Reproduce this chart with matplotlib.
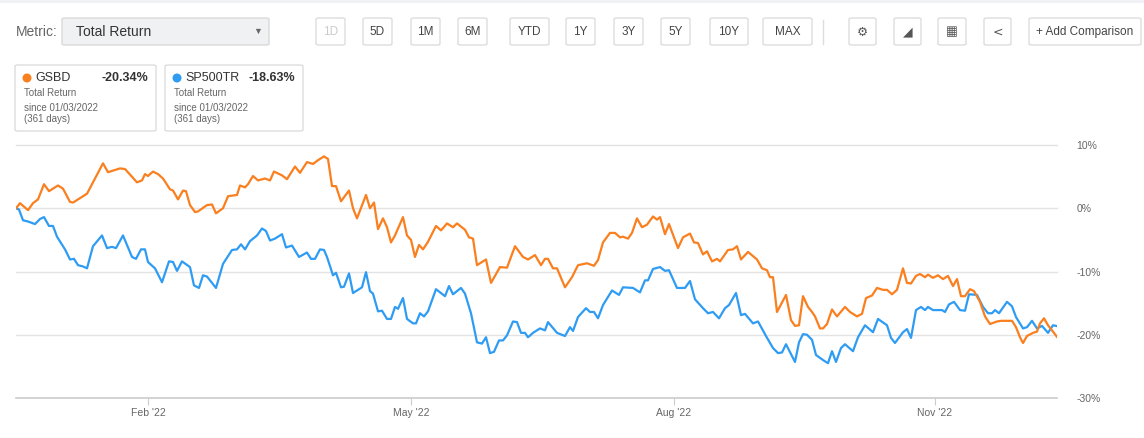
import numpy as np
import matplotlib
matplotlib.use("Agg")
import matplotlib.pyplot as plt
from matplotlib.patches import FancyBboxPatch, Ellipse

plt.rcParams["font.family"] = ["Liberation Sans", "DejaVu Sans"]

W, H = 1144, 438

# (chart position, total return %) ; position 0 = 01/03/2022, 1041 = end of range
gsbd = [(0, 0.0), (4, 0.8), (12, -0.3), (17, 0.8), (22, 1.4), (28, 3.8), (33, 2.7), (42, 3.6),
        (47, 3.1), (54, 1.0), (57, 0.9), (71, 2.3), (77, 4.1), (87, 7.1), (92, 5.7), (104, 6.3),
        (109, 6.2), (121, 4.1), (126, 4.4), (129, 5.4), (132, 5.1), (137, 5.8), (142, 5.4),
        (147, 4.7), (154, 3.0), (157, 2.8), (162, 1.4), (167, 2.8), (170, 2.7), (174, 0.5),
        (179, -0.6), (182, -0.5), (191, 0.5), (196, 0.6), (200, -0.8), (207, 0.0), (212, 1.9),
        (221, 2.1), (224, 3.6), (229, 3.3), (232, 3.8), (237, 5.1), (242, 4.4), (249, 4.7),
        (254, 4.4), (258, 5.8), (266, 5.2), (271, 4.6), (279, 6.6), (284, 5.6), (291, 7.3),
        (297, 7.0), (302, 7.6), (308, 8.2), (312, 7.8), (316, 3.5), (320, 3.5), (325, 1.1),
        (333, 2.8), (337, 0.0), (341, -1.6), (350, 2.1), (354, 0.0), (358, 0.9), (362, -3.3),
        (367, -1.6), (371, -3.0), (375, -5.4), (379, -4.3), (387, -1.4), (391, -4.3),
        (395, -5.0), (399, -7.7), (403, -5.8), (407, -6.5), (412, -5.3), (420, -2.8),
        (425, -3.5), (431, -2.4), (437, -3.0), (441, -2.4), (449, -3.4), (453, -4.6),
        (457, -4.8), (461, -9.0), (470, -8.1), (475, -11.8), (484, -9.3), (491, -9.4),
        (499, -6.0), (507, -7.7), (512, -8.1), (519, -7.4), (525, -9.0), (529, -8.0),
        (532, -8.0), (537, -9.5), (541, -9.5), (549, -12.5), (556, -10.9), (562, -9.0),
        (571, -8.7), (578, -9.1), (582, -8.2), (587, -5.4), (594, -3.9), (599, -3.9),
        (604, -4.6), (607, -4.5), (612, -4.8), (616, -3.9), (621, -1.6), (626, -3.0),
        (631, -2.6), (637, -1.3), (641, -1.8), (644, -1.4), (649, -4.1), (653, -2.5),
        (662, -6.3), (667, -4.6), (674, -4.0), (678, -5.4), (682, -5.5), (687, -7.3),
        (691, -6.8), (696, -8.4), (701, -8.0), (704, -8.4), (712, -6.6), (717, -6.5),
        (721, -6.0), (725, -8.1), (732, -6.9), (741, -8.1), (746, -9.5), (751, -9.8),
        (754, -10.9), (757, -10.9), (761, -16.4), (770, -13.7), (775, -17.7), (779, -18.6),
        (783, -18.5), (787, -13.9), (792, -15.6), (796, -16.4), (799, -17.1), (804, -19.0),
        (807, -19.0), (811, -18.3), (816, -16.0), (821, -17.1), (829, -15.6), (834, -16.4),
        (841, -17.1), (846, -16.7), (850, -14.2), (856, -13.8), (861, -12.6), (867, -12.9),
        (871, -12.9), (876, -13.6), (881, -12.9), (887, -9.5), (891, -11.8), (895, -11.9),
        (900, -10.7), (904, -10.4), (909, -10.9), (912, -10.5), (917, -11.0), (922, -10.6),
        (927, -11.2), (932, -10.7), (937, -12.3), (941, -11.2), (945, -13.9), (949, -13.9),
        (954, -12.8), (958, -13.1), (964, -14.8), (969, -17.1), (974, -18.3), (981, -17.9),
        (985, -17.8), (996, -17.8), (1000, -18.8), (1004, -20.4), (1007, -21.3), (1011, -20.2),
        (1017, -19.7), (1021, -19.5), (1024, -18.2), (1028, -17.4), (1032, -18.5),
        (1036, -19.3), (1041, -20.34)]

sp500tr = [(0, 0.0), (3, -0.2), (7, -1.9), (12, -2.1), (19, -2.5), (24, -1.7), (28, -1.4),
           (33, -2.8), (37, -2.8), (41, -4.5), (49, -6.5), (54, -8.1), (58, -8.0), (62, -9.0),
           (67, -9.2), (71, -9.5), (77, -6.0), (86, -4.3), (91, -6.3), (96, -6.1), (100, -6.3),
           (107, -4.3), (116, -7.7), (120, -8.0), (125, -6.5), (129, -6.5), (132, -8.5),
           (139, -9.5), (146, -11.7), (153, -8.4), (157, -8.5), (161, -9.9), (166, -8.4),
           (174, -9.3), (178, -12.2), (183, -12.6), (187, -10.6), (191, -10.8), (196, -11.8),
           (200, -12.6), (207, -8.8), (216, -6.6), (221, -6.5), (225, -5.7), (229, -6.5),
           (234, -5.2), (241, -4.3), (246, -3.2), (250, -3.6), (254, -5.1), (259, -4.8),
           (263, -4.4), (266, -4.1), (270, -6.2), (276, -5.9), (283, -7.7), (291, -7.0),
           (295, -8.0), (299, -8.0), (304, -6.5), (308, -6.6), (311, -7.7), (317, -10.6),
           (320, -10.2), (325, -12.5), (328, -12.4), (333, -10.3), (337, -13.4), (346, -12.5),
           (350, -10.1), (354, -13.1), (357, -13.5), (362, -16.3), (366, -16.2), (371, -17.5),
           (375, -17.5), (379, -15.6), (382, -15.9), (387, -14.2), (391, -17.5), (397, -18.2),
           (400, -18.2), (404, -16.6), (408, -17.1), (412, -16.3), (420, -12.8), (429, -13.9),
           (433, -12.3), (437, -13.6), (445, -12.6), (449, -13.5), (455, -16.6), (461, -21.2),
           (466, -21.4), (470, -20.4), (474, -22.9), (478, -22.7), (483, -20.9), (487, -20.9),
           (491, -20.1), (497, -17.9), (501, -18.0), (505, -19.7), (509, -19.7), (512, -20.4),
           (517, -19.7), (524, -19.0), (529, -19.3), (532, -18.0), (541, -19.7), (549, -20.2),
           (554, -18.8), (557, -19.4), (562, -17.2), (570, -15.8), (574, -16.4), (578, -16.4),
           (582, -17.4), (587, -15.3), (596, -13.0), (603, -13.7), (607, -12.5), (617, -12.6),
           (624, -13.3), (629, -11.4), (632, -11.4), (637, -9.6), (644, -9.3), (649, -9.9),
           (653, -9.8), (661, -12.6), (669, -12.6), (674, -11.5), (679, -14.4), (687, -15.8),
           (692, -16.6), (697, -16.4), (703, -17.4), (709, -15.8), (713, -15.3), (720, -13.4),
           (725, -16.9), (729, -16.7), (737, -18.2), (742, -17.9), (750, -20.2), (757, -22.1),
           (762, -22.9), (766, -22.8), (770, -21.5), (779, -24.3), (783, -21.2), (787, -19.9),
           (791, -20.0), (796, -20.8), (800, -23.2), (807, -24.0), (812, -24.5), (816, -22.6),
           (820, -24.3), (825, -22.1), (829, -21.5), (837, -22.6), (842, -20.4), (849, -18.5),
           (857, -19.6), (862, -17.5), (871, -18.5), (875, -20.5), (879, -21.3), (887, -19.6),
           (891, -19.1), (895, -20.5), (900, -16.1), (905, -15.6), (909, -16.1), (912, -15.6),
           (917, -16.1), (926, -16.1), (929, -16.4), (933, -15.2), (938, -14.8), (944, -16.1),
           (949, -16.2), (953, -13.6), (961, -13.7), (967, -15.6), (972, -16.6), (976, -16.6),
           (979, -16.1), (983, -16.6), (991, -14.8), (996, -15.5), (1000, -17.2), (1007, -19.0),
           (1011, -18.8), (1016, -17.8), (1021, -19.0), (1026, -18.6), (1032, -19.7),
           (1037, -18.5), (1041, -18.63)]

month_ticks = [132, 395, 658, 919]
month_labels = ["Feb '22", "May '22", "Aug '22", "Nov '22"]
y_ticks = [10, 0, -10, -20, -30]

ORANGE = "#fa7f1f"
BLUE = "#2f9cf4"
TXT = "#333333"
GRAY = "#666666"

fig = plt.figure(figsize=(W / 100, H / 100), dpi=100)


def fx(px):
    return px / W


def fy(py):
    return 1 - py / H


def box(x0, y0, x1, y1, fc="white", ec="#d9d9d9", r=3):
    fig.patches.append(FancyBboxPatch((fx(x0), fy(y1)), fx(x1 - x0), (y1 - y0) / H,
                                      boxstyle=f"round,pad=0,rounding_size={r / W}",
                                      transform=fig.transFigure, fc=fc, ec=ec, lw=0.9))


def label(px, py, s, **kw):
    kw.setdefault("color", TXT)
    kw.setdefault("fontsize", 8.5)
    kw.setdefault("va", "center")
    fig.text(fx(px), fy(py), s, **kw)


# top strip
fig.patches.append(plt.Rectangle((0, fy(3)), 1, 3 / H, transform=fig.transFigure,
                                 fc="#f0f2f5", ec="none"))

# toolbar
label(16, 32, "Metric:", color=GRAY, fontsize=10)
box(62, 18, 269, 45, fc="#f0f1f3", ec="#d6d6d6")
label(76, 32, "Total Return", fontsize=10)
label(258, 31, "▼", fontsize=6.5, color=GRAY, ha="center")

buttons = [("1D", 316, 345), ("5D", 363, 392), ("1M", 411, 440), ("6M", 458, 487),
           ("YTD", 510, 549), ("1Y", 566, 595), ("3Y", 614, 643), ("5Y", 661, 690),
           ("10Y", 710, 748), ("MAX", 763, 812)]
for name, a, b in buttons:
    box(a, 18, b, 45)
    label((a + b) / 2, 32, name, ha="center", fontsize=8.5,
          color="#cccccc" if name == "1D" else "#444444")
fig.add_artist(plt.Line2D([fx(823), fx(823)], [fy(20), fy(44)], color="#dddddd",
                          lw=1, transform=fig.transFigure))
icons = [("⚙", 849, 876), ("◢", 894, 921), ("▦", 938, 966), ("<", 984, 1011)]
for glyph, a, b in icons:
    box(a, 18, b, 45)
    label((a + b) / 2, 32, glyph, ha="center", fontsize=9, color="#555555",
          family=["DejaVu Sans"])
box(1029, 18, 1141, 45)
label(1085, 32, "+ Add Comparison", ha="center", fontsize=8.5, color="#444444")

# legend cards
cards = [("GSBD", "-20.34%", ORANGE, 15, 156), ("SP500TR", "-18.63%", BLUE, 165, 303)]
for name, val, col, a, b in cards:
    box(a, 65, b, 131)
    fig.patches.append(Ellipse((fx(a + 12), fy(78)), 9 / W, 9 / H,
                               transform=fig.transFigure, fc=col, ec="none"))
    label(a + 20, 78, name, fontsize=9)
    label(b - 8, 78, val, fontsize=9, ha="right", weight="bold")
    label(a + 9, 93, "Total Return", fontsize=7, color=GRAY)
    label(a + 9, 108, "since 01/03/2022", fontsize=7, color=GRAY)
    label(a + 9, 119, "(361 days)", fontsize=7, color=GRAY)

# chart
ax = fig.add_axes([fx(16), fy(398), fx(1057 - 16), (398 - 145) / H])
gx, gy = zip(*gsbd)
sx, sy = zip(*sp500tr)
ax.plot(sx, sy, color=BLUE, lw=1.6, zorder=3)
ax.plot(gx, gy, color=ORANGE, lw=1.6, zorder=4)
ax.set_xlim(0, 1041)
ax.set_ylim(-30, 10)
for v in y_ticks:
    ax.axhline(v, color="#cccccc" if v == -30 else "#e3e3e3", lw=1.2 if v == -30 else 1,
               zorder=1, clip_on=False)
for sp in ax.spines.values():
    sp.set_visible(False)
ax.yaxis.tick_right()
ax.set_yticks(y_ticks)
ax.set_yticklabels([f"{v}%" for v in y_ticks], fontsize=7.5, color=GRAY)
ax.tick_params(axis="y", length=0, pad=14)
ax.set_xticks(month_ticks)
ax.set_xticklabels(month_labels, fontsize=7.5, color=GRAY)
ax.tick_params(axis="x", length=5, color="#cccccc", pad=2, direction="out")

fig.savefig("out.png", dpi=100)
